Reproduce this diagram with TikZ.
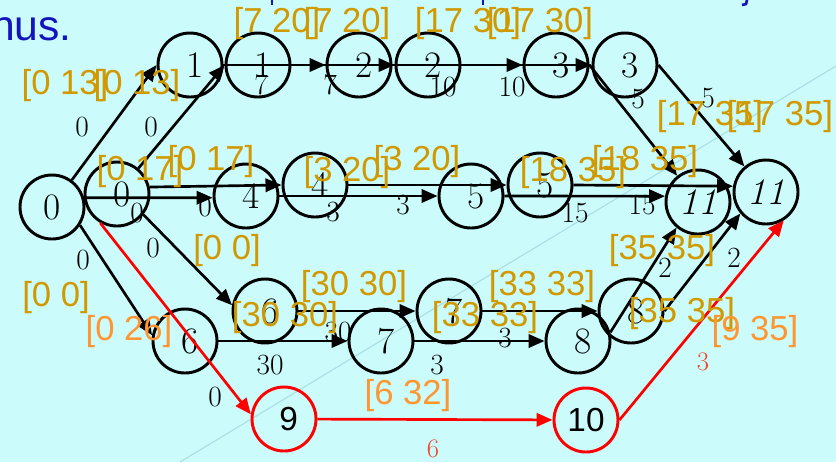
\documentclass[tikz,border=0pt]{standalone}
\usepackage{fontspec}
\newfontfamily\arial{Liberation Sans}
\usetikzlibrary{arrows.meta}
\definecolor{bg}{RGB}{204,251,251}
\definecolor{gold}{RGB}{208,153,0}
\definecolor{lorange}{RGB}{255,150,50}
\definecolor{titleblue}{RGB}{20,20,190}
\definecolor{faint}{RGB}{168,222,228}
\definecolor{redlab}{RGB}{240,70,40}
\newcommand{\rs}[1]{\hspace*{7pt}#1}
\tikzset{
  nd/.style={circle, draw, line width=2.2pt, minimum size=48pt, inner sep=0pt, font=\fontsize{28}{28}\selectfont},
  rnd/.style={nd, draw=red, font=\arial\fontsize{25}{25}\selectfont},
  edge/.style={line width=2pt, -{Triangle[length=12pt,width=10pt]}},
  redge/.style={edge, draw=red},
  el/.style={font=\fontsize{22}{22}\selectfont, inner sep=0pt},
  rl/.style={el, text=redlab, font=\fontsize{20}{20}\selectfont},
  gl/.style={text=gold, font=\arial\fontsize{26}{26}\selectfont, inner sep=0pt},
  ol/.style={gl, text=lorange}
}
\begin{document}
\begin{tikzpicture}[x=0.75pt,y=-0.75pt]
\fill[bg] (0,0) rectangle (836,462);
\useasboundingbox (0,0) rectangle (836,462);
\coordinate (fa) at (180,462);
\coordinate (fb) at (836,66);
\draw[faint, line width=0.8pt] (fa) -- (fb);
% title remnants
\node[anchor=base east, text=titleblue, font=\arial\fontsize{32}{32}\selectfont, inner sep=0pt] (title) at (72,40) {nus.};
\draw[titleblue, line width=2pt] (272,0) -- (272,5);
\draw[titleblue, line width=2pt] (483,0) -- (483,5);
\draw[titleblue, line width=2pt] (747,0) -- (746,4) -- (742,5);
% nodes
\node[nd] (0a) at (52,207) {0};
\node[nd] (0b) at (117,194) {\rs{0}};
\node[nd] (1a) at (190,65) {\rs{1}};
\node[nd] (1b) at (258,65) {\rs{1}};
\node[nd] (2a) at (359,65) {\rs{2}};
\node[nd] (2b) at (428,65) {\rs{2}};
\node[nd] (3a) at (556,65) {\rs{3}};
\node[nd] (3b) at (625,65) {\rs{3}};
\node[nd] (4a) at (246,196) {\rs{4}};
\node[nd] (4b) at (315,185) {\rs{4}};
\node[nd] (5a) at (471,196) {\rs{5}};
\node[nd] (5b) at (540,185) {\rs{5}};
\node[nd] (6a) at (265,311) {\rs{6}};
\node[nd] (6b) at (185,341) {\rs{6}};
\node[nd] (7a) at (449,311) {\rs{7}};
\node[nd] (7b) at (381,341) {\rs{7}};
\node[nd] (8a) at (631,311) {\rs{8}};
\node[nd] (8b) at (578,341) {\rs{8}};
\node[nd] (11a) at (698,202) {\textit{11}};
\node[nd] (11b) at (766,192) {\textit{11}};
\node[rnd] (9) at (284,419) {\rs{9}};
\node[rnd] (10) at (586,420) {10};
% edges
\draw[edge] (0a) -- (1a.west);
\draw[edge] (0b) -- (1b.west);
\draw[edge] (1a) -- (2a);
\draw[edge] (1b) -- (2b);
\draw[edge] (2a) -- (3a);
\draw[edge] (2b) -- (3b);
\draw[edge] (3a.east) -- (11a);
\draw[edge] (3b.east) -- (11b);
\draw[edge] (0a.16) -- (4a.183);
\draw[edge] (0b.12) -- (4b.west);
\draw[edge] (4a) -- (5a);
\draw[edge] (4b) -- (5b);
\draw[edge] (5a.east) -- (11a.170);
\draw[edge] (5b.east) -- (11b.170);
\draw[edge] (0a.-33) -- (6b.170);
\draw[edge] (0b.-38) -- (6a.170);
\draw[edge] (6b) -- (7b);
\draw[edge] (6a) -- (7a);
\draw[edge] (7b) -- (8b);
\draw[edge] (7a) -- (8a);
\draw[edge] (8b.15) -- (11a.-130);
\draw[edge] (8a.east) -- (11b.-140);
\draw[redge] (0b.-120) -- (9.172);
\draw[redge] (9) -- (10);
\draw[redge] (10.east) -- (11b.-58);
% edge labels
\node[el] (e1) at (82,127) {0};
\node[el] (e2) at (151,127) {0};
\node[el] (e3) at (261,85) {7};
\node[el] (e4) at (330,85) {7};
\node[el] (e5) at (443,87) {10};
\node[el] (e6) at (512,87) {10};
\node[el] (e7) at (638,99) {5};
\node[el] (e8) at (708,98) {5};
\node[el] (e9) at (205,207) {0};
\node[el] (e10) at (137,213) {0};
\node[el] (e11) at (153,248) {0};
\node[el] (e12) at (83,260) {0};
\node[el] (e13) at (333,212) {3};
\node[el] (e14) at (403,205) {3};
\node[el] (e15) at (575,213) {15};
\node[el] (e16) at (642,205) {15};
\node[el] (e17) at (665,268) {2};
\node[el] (e18) at (734,258) {2};
\node[el] (e19) at (270,365) {30};
\node[el] (e20) at (338,332) {30};
\node[el] (e21) at (437,365) {3};
\node[el] (e22) at (505,338) {3};
\node[el] (e23) at (215,397) {0};
\node[rl] (e24) at (433,449) {6};
\node[rl] (e25) at (703,362) {3};
% time windows
\node[gl] (g1) at (65,86) {[0 13]};
\node[gl] (g2) at (137,86) {[0 13]};
\node[gl] (g3) at (277,24) {[7 20]};
\node[gl] (g4) at (347,24) {[7 20]};
\node[gl] (g5) at (468,24) {[17 30]};
\node[gl] (g6) at (540,24) {[17 30]};
\node[gl] (g7) at (710,117) {[17 35]};
\node[gl] (g8) at (780,117) {[17 35]};
\node[gl] (g9) at (140,172) {[0 17]};
\node[gl] (g10) at (211,162) {[0 17]};
\node[gl] (g11) at (227,251) {[0 0]};
\node[gl] (g12) at (56,298) {[0 0]};
\node[gl] (g13) at (347,173) {[3 20]};
\node[gl] (g14) at (417,162) {[3 20]};
\node[gl] (g15) at (573,173) {[18 35]};
\node[gl] (g16) at (645,162) {[18 35]};
\node[gl] (g17) at (662,251) {[35 35]};
\node[gl] (g18) at (682,314) {[35 35]};
\node[gl] (g19) at (354,287) {[30 30]};
\node[gl] (g20) at (285,318) {[30 30]};
\node[gl] (g21) at (542,287) {[33 33]};
\node[gl] (g22) at (485,318) {[33 33]};
\node[ol] (o1) at (129,332) {[0 26]};
\node[ol] (o2) at (408,396) {[6 32]};
\node[ol] (o3) at (755,332) {[9 35]};
\end{tikzpicture}
\end{document}
